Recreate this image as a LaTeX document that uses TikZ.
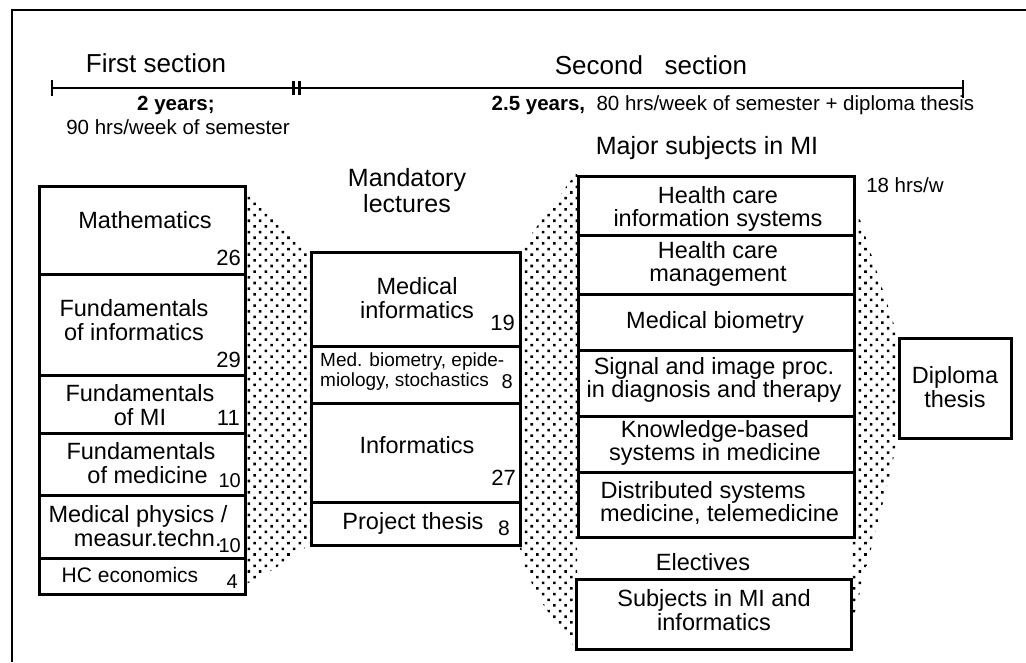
\documentclass[tikz,border=0pt]{standalone}
\usepackage{fontspec}
\setmainfont{Liberation Sans}
\usetikzlibrary{patterns.meta}
\begin{document}
\begin{tikzpicture}[x=1pt,y=-1pt,
  box/.style={draw, line width=2.8pt, rectangle, inner sep=0pt, fill=white, anchor=north west},
  txt/.style={align=center, inner sep=0pt, font=\fontsize{23.5}{23.5}\selectfont},
  small/.style={align=left, inner sep=0pt, font=\fontsize{19}{20}\selectfont},
  num/.style={inner sep=0pt, anchor=east, font=\fontsize{22}{22}\selectfont},
  head/.style={inner sep=0pt, align=center, font=\fontsize{26}{27}\selectfont},
  note/.style={inner sep=0pt, align=center, font=\fontsize{20.5}{22}\selectfont},
  stip/.style={pattern={Dots[distance=8pt,radius=1.8pt,angle=45]}},
  frameline/.style={line width=2pt},
  scale line/.style={line width=2pt},
]
\useasboundingbox (0,0) rectangle (1026,662);
% frame
\coordinate (fbl) at (12,662);
\coordinate (ftl) at (12,10);
\coordinate (ftr) at (1026,10);
\draw[frameline] (fbl) -- (ftl) -- (ftr);

% time scale
\coordinate (t0) at (52,88);
\coordinate (t1) at (293,88);
\coordinate (t2) at (299,88);
\coordinate (t3) at (963,88);
\draw[scale line] (t0) -- (t3);
\draw[line width=2.4pt] ([yshift=-8pt]t0) -- ([yshift=8pt]t0);
\draw[line width=3pt] ([yshift=-7pt]t1) -- ([yshift=7pt]t1);
\draw[line width=3pt] ([yshift=-7pt]t2) -- ([yshift=7pt]t2);
\draw[line width=2.4pt] ([yshift=-10pt]t3) -- ([yshift=8pt]t3);

\node[head] (first) at (156,63) {First section};
\node[head] (second) at (651,65) {Second\ \ \ section};
\node[note] (y2) at (176,105) {\bfseries 2 years;};
\node[note] (h90) at (178,127) {90 hrs/week of semester};
\node[note] (y25) at (733,105) {\bfseries 2.5 years,\ \ \mdseries 80 hrs/week of semester + diploma thesis};
\node[head, font=\fontsize{25}{26}\selectfont] (major) at (707,148) {Major subjects in MI};
\node[head, font=\fontsize{25}{26}\selectfont] (mand) at (407,191) {Mandatory\\lectures};
\node[note] (h18) at (905,185) {18 hrs/w};

% stippled connecting areas
\fill[stip] (244,185) -- (310,251) -- (310,544) .. controls (290,560) and (265,575) .. (244,585) -- cycle;
\fill[stip] (519,251) -- (577,172) -- (577,650) .. controls (548,615) and (527,585) .. (519,544) -- cycle;
\fill[stip] (853,198) -- (898,337) -- (898,437) .. controls (885,500) and (865,570) .. (851,628) -- cycle;

% left column
\node[box, minimum width=206pt, minimum height=88pt]  (math) at (38,185) {};
\node[box, minimum width=206pt, minimum height=101pt] (finf) at (38,273) {};
\node[box, minimum width=206pt, minimum height=58pt]  (fmi)  at (38,374) {};
\node[box, minimum width=206pt, minimum height=62pt]  (fmed) at (38,432) {};
\node[box, minimum width=206pt, minimum height=63pt]  (mphy) at (38,494) {};
\node[box, minimum width=206pt, minimum height=36pt]  (hce)  at (38,557) {};

\node[txt] (tmath) at (145,220) {Mathematics};
\node[num] (n26) at (241,258) {26};
\node[txt] (tfinf) at (134,320) {Fundamentals\\of informatics};
\node[num] (n29) at (241,360) {29};
\node[txt] (tfmi) at (140,405) {Fundamentals\\of MI};
\node[num] (n11) at (240,418) {11};
\node[txt] (tfmed) at (141,463) {Fundamentals\\\ \ of medicine};
\node[num, font=\fontsize{20}{20}\selectfont] (n10a) at (241,481) {10};
\node[txt] (tmphy) at (138,526) {Medical physics /\\\ \ \ measur.techn.};
\node[num, font=\fontsize{20}{20}\selectfont] (n10b) at (241,546) {10};
\node[txt, font=\fontsize{21}{21}\selectfont] (thce) at (130,575) {HC economics};
\node[num, font=\fontsize{20}{20}\selectfont] (n4) at (238,582) {4};

% middle column
\node[box, minimum width=209pt, minimum height=94pt] (medinf) at (310,251) {};
\node[box, minimum width=209pt, minimum height=57pt] (medbio) at (310,345) {};
\node[box, minimum width=209pt, minimum height=99pt] (inf)    at (310,402) {};
\node[box, minimum width=209pt, minimum height=43pt] (proj)   at (310,501) {};

\node[txt] (tmedinf) at (417,298) {Medical\\informatics};
\node[num] (n19) at (515,323) {19};
\node[small, anchor=west] (tmedbio) at (320,372) {Med. biometry, epide-\\miology, stochastics};
\node[num, font=\fontsize{20}{20}\selectfont] (n8a) at (513,382) {8};
\node[txt] (tinf) at (417,445) {Informatics};
\node[num] (n27) at (516,478) {27};
\node[txt] (tproj) at (413,523) {Project thesis};
\node[num, font=\fontsize{21}{21}\selectfont] (n8b) at (510,528) {8};

% right column
\node[box, minimum width=276pt, minimum height=59pt] (hcis) at (577,175) {};
\node[box, minimum width=276pt, minimum height=59pt] (hcm)  at (577,234) {};
\node[box, minimum width=276pt, minimum height=56pt] (mbio) at (577,293) {};
\node[box, minimum width=276pt, minimum height=66pt] (sig)  at (577,349) {};
\node[box, minimum width=276pt, minimum height=56pt] (kb)   at (577,415) {};
\node[box, minimum width=276pt, minimum height=65pt] (ds)   at (577,471) {};
\node[box, minimum width=275pt, minimum height=70pt] (subj) at (575,578) {};
\node[box, minimum width=112pt, minimum height=100pt] (dipl) at (898,337) {};

\node[txt] (thcis) at (718,209) {Health care\\information systems};
\node[txt] (thcm) at (718,264) {Health care\\management};
\node[txt] (tmbio) at (715,322) {Medical biometry};
\node[txt] (tsig) at (714,380) {Signal and image proc.\\in diagnosis and therapy};
\node[txt] (tkb) at (715,443) {Knowledge-based\\systems in medicine};
\node[txt] (tds) at (713,503) {Distributed systems\ \ \ \ \\\ \ medicine, telemedicine};
\node[txt] (tel) at (703,562) {Electives};
\node[txt] (tsubj) at (714,610) {Subjects in MI and\\informatics};
\node[txt] (tdipl) at (955,387) {Diploma\\thesis};
\end{tikzpicture}
\end{document}
